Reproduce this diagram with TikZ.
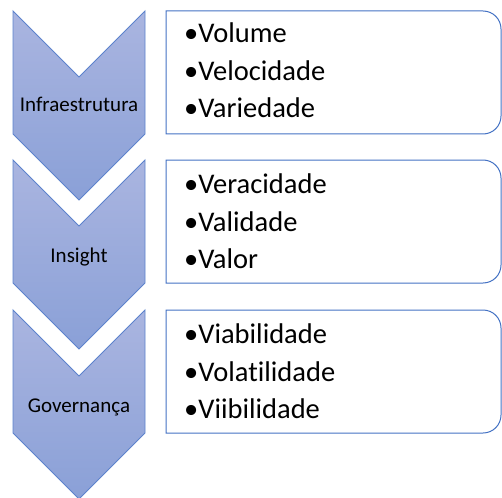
\documentclass[tikz,border=0pt]{standalone}
\usepackage{fontspec}
\setmainfont[Ligatures={NoCommon}]{Carlito}
\definecolor{chevtop}{RGB}{170,181,224}
\definecolor{chevbot}{RGB}{138,160,215}
\definecolor{chevline}{RGB}{92,130,204}
\definecolor{boxline}{RGB}{68,114,196}
\tikzset{
  chevron/.style={draw=chevline, line width=0.9pt, top color=chevtop, bottom color=chevbot, line join=miter},
  listbox/.style={draw=boxline, line width=1pt, fill=white},
  chevlabel/.style={font=\fontsize{21}{25}\selectfont, text=black, anchor=base, inner sep=0pt},
  itemlabel/.style={font=\fontsize{28.5}{33}\selectfont, text=black, anchor=base west, inner sep=0pt}
}
\begin{document}
\begin{tikzpicture}[x=1pt,y=-1pt]
\useasboundingbox (0,0) rectangle (502,497);
% chevrons
\foreach \T in {11,160,310}{
  \path[chevron] (13,\T) -- (79,\T+66) -- (145,\T) -- (145,\T+123) -- (79,\T+189) -- (13,\T+123) -- cycle;
}
\node[chevlabel] (l1) at (79,112) {Infraestrutura};
\node[chevlabel] (l2) at (79,262) {Insight};
\node[chevlabel] (l3) at (79,412) {Governança};
% boxes
\foreach \T in {11,160,310}{
  \draw[listbox] (166,\T) -- (483,\T) arc[start angle=-90, end angle=0, radius=18] -- (501,\T+105) arc[start angle=0, end angle=90, radius=18] -- (166,\T+123) -- cycle;
}
\node[itemlabel] (a1) at (184,43) {•Volume};
\node[itemlabel] (a2) at (184,81) {•Velocidade};
\node[itemlabel] (a3) at (184,118) {•Variedade};
\node[itemlabel] (b1) at (184,193) {•Veracidade};
\node[itemlabel] (b2) at (184,231) {•Validade};
\node[itemlabel] (b3) at (184,268) {•Valor};
\node[itemlabel] (d1) at (184,343) {•Viabilidade};
\node[itemlabel] (d2) at (184,381) {•Volatilidade};
\node[itemlabel] (d3) at (184,418) {•Viibilidade};
\end{tikzpicture}
\end{document}
